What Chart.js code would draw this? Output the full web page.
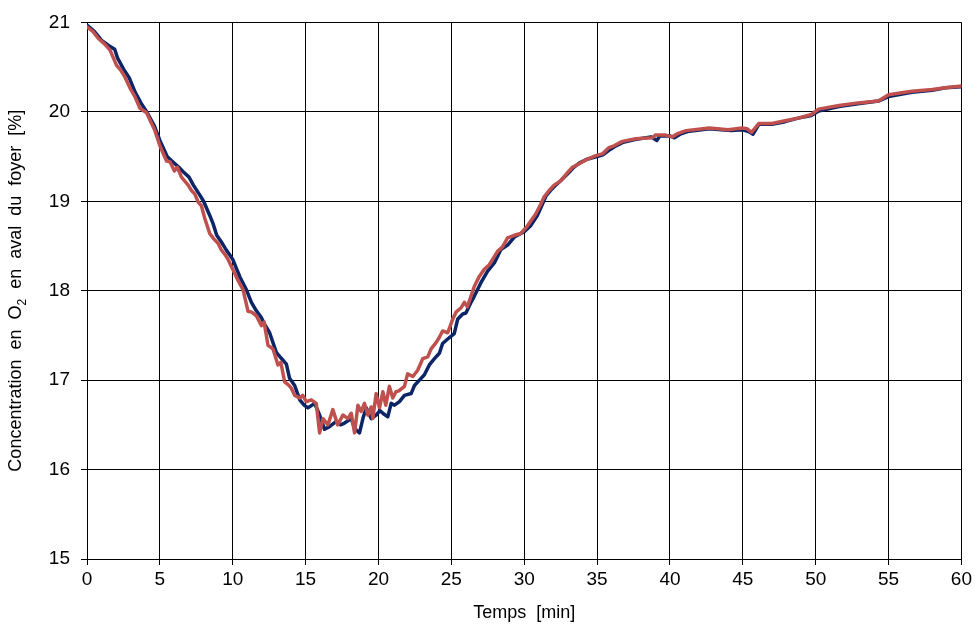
<!DOCTYPE html>
<html>
<head>
<meta charset="utf-8">
<script src="https://cdn.jsdelivr.net/npm/chart.js@4/dist/chart.umd.min.js"></script>
<style>
  html, body { margin: 0; padding: 0; background: #ffffff; }
  #wrap { width: 975px; height: 626px; }
</style>
</head>
<body>
<div id="wrap"><canvas id="c" width="975" height="626"></canvas></div>
<script>
// ---- Data ----
const xTickValues = [0, 5, 10, 15, 20, 25, 30, 35, 40, 45, 50, 55, 60];
const yTickValues = [15, 16, 17, 18, 19, 20, 21];
const xTitle = "Temps  [min]";
const yTitleParts = ["Concentration  en  O", "2", "  en  aval  du  foyer  [%]"];

const redTime = [0, 0.4, 0.78, 1.2, 1.58, 2.03, 2.3, 2.6, 3.0, 3.29, 3.63, 4.09, 4.4, 4.66, 5.0, 5.46, 5.7, 6.0, 6.2, 6.48, 6.94, 7.17, 7.4, 7.63, 7.85, 8.08, 8.42, 8.7, 8.99, 9.2, 9.45, 9.68, 10.0, 10.35, 10.71, 11.05, 11.3, 11.62, 11.96, 12.15, 12.42, 12.76, 13.1, 13.3, 13.56, 13.8, 14.02, 14.25, 14.6, 14.8, 15.05, 15.39, 15.73, 15.96, 16.19, 16.53, 16.87, 17.2, 17.56, 17.9, 18.13, 18.36, 18.59, 18.81, 19.04, 19.27, 19.5, 19.61, 19.84, 20.07, 20.3, 20.5, 20.75, 20.98, 21.2, 21.4, 21.78, 22.0, 22.36, 22.69, 23.04, 23.38, 23.61, 23.95, 24.18, 24.4, 24.75, 25.09, 25.32, 25.67, 25.89, 26.1, 26.35, 26.58, 26.92, 27.26, 27.6, 27.83, 28.17, 28.51, 28.86, 29.32, 29.77, 30.2, 30.8, 31.14, 31.37, 31.71, 32.05, 32.51, 32.97, 33.31, 33.77, 34.2, 34.91, 35.37, 35.82, 36.16, 36.74, 37.65, 38.79, 39.0, 39.7, 40.16, 40.57, 41.1, 42.7, 44.0, 44.95, 45.3, 45.6, 46.1, 47.0, 47.9, 48.8, 49.7, 50.2, 51.6, 52.9, 54.3, 55.0, 56.6, 58.0, 58.9, 60.0];
const redO2 = [20.95, 20.90, 20.82, 20.76, 20.69, 20.52, 20.47, 20.39, 20.25, 20.17, 20.04, 19.99, 19.88, 19.79, 19.62, 19.45, 19.44, 19.34, 19.38, 19.27, 19.18, 19.12, 19.08, 18.99, 18.95, 18.81, 18.64, 18.58, 18.53, 18.46, 18.41, 18.35, 18.24, 18.12, 18.01, 17.77, 17.76, 17.72, 17.61, 17.65, 17.39, 17.35, 17.17, 17.20, 16.98, 16.95, 16.91, 16.83, 16.80, 16.83, 16.76, 16.78, 16.74, 16.41, 16.57, 16.50, 16.67, 16.50, 16.61, 16.57, 16.63, 16.41, 16.72, 16.65, 16.74, 16.61, 16.70, 16.57, 16.85, 16.69, 16.87, 16.72, 16.93, 16.80, 16.87, 16.88, 16.93, 17.07, 17.04, 17.11, 17.24, 17.26, 17.35, 17.42, 17.48, 17.55, 17.53, 17.68, 17.76, 17.81, 17.87, 17.82, 17.94, 18.05, 18.16, 18.24, 18.29, 18.35, 18.44, 18.49, 18.59, 18.62, 18.64, 18.72, 18.86, 18.97, 19.05, 19.12, 19.18, 19.23, 19.32, 19.38, 19.42, 19.46, 19.51, 19.53, 19.60, 19.62, 19.67, 19.70, 19.71, 19.74, 19.74, 19.72, 19.76, 19.79, 19.82, 19.80, 19.82, 19.81, 19.77, 19.87, 19.87, 19.90, 19.93, 19.97, 20.03, 20.07, 20.10, 20.12, 20.19, 20.23, 20.25, 20.27, 20.29];

const blueTime = [0, 0.5, 1.0, 1.5, 1.9, 2.1, 2.5, 2.9, 3.3, 3.7, 4.1, 4.6, 5.0, 5.5, 5.9, 6.3, 6.6, 7.0, 7.3, 7.7, 8.0, 8.4, 8.65, 8.9, 9.2, 9.5, 9.8, 10.0, 10.5, 10.94, 11.28, 11.6, 11.96, 12.2, 12.53, 12.8, 12.99, 13.3, 13.68, 13.9, 14.25, 14.6, 14.9, 15.16, 15.62, 15.96, 16.3, 16.64, 17.1, 17.4, 17.67, 18.13, 18.36, 18.7, 18.93, 19.16, 19.5, 19.84, 20.1, 20.3, 20.64, 20.87, 21.1, 21.44, 21.78, 22.24, 22.47, 22.81, 23.15, 23.49, 23.84, 24.18, 24.4, 24.75, 25.2, 25.43, 25.78, 26.0, 26.35, 26.58, 27.03, 27.49, 27.95, 28.4, 28.86, 29.32, 30.0, 30.46, 30.9, 31.2, 31.5, 31.8, 32.1, 32.5, 33.0, 33.4, 33.8, 34.3, 35.0, 35.4, 35.9, 36.3, 36.8, 37.6, 38.7, 39.1, 39.3, 40.0, 40.3, 40.7, 41.2, 42.7, 43.5, 44.2, 45.0, 45.4, 45.7, 46.1, 47.0, 47.9, 48.8, 49.7, 50.2, 51.6, 52.9, 54.3, 55.0, 56.6, 58.0, 58.9, 60.0];
const blueO2 = [20.97, 20.90, 20.80, 20.74, 20.70, 20.60, 20.48, 20.38, 20.22, 20.10, 20.00, 19.85, 19.68, 19.50, 19.44, 19.38, 19.33, 19.27, 19.18, 19.08, 19.00, 18.85, 18.75, 18.62, 18.55, 18.47, 18.40, 18.35, 18.15, 18.01, 17.87, 17.78, 17.70, 17.62, 17.53, 17.40, 17.31, 17.25, 17.18, 17.02, 16.94, 16.78, 16.72, 16.69, 16.74, 16.61, 16.45, 16.48, 16.54, 16.50, 16.52, 16.57, 16.46, 16.41, 16.57, 16.69, 16.57, 16.61, 16.66, 16.63, 16.59, 16.74, 16.72, 16.76, 16.83, 16.85, 16.94, 17.00, 17.06, 17.17, 17.24, 17.30, 17.41, 17.46, 17.52, 17.68, 17.74, 17.75, 17.87, 17.94, 18.09, 18.22, 18.31, 18.46, 18.51, 18.60, 18.66, 18.73, 18.84, 18.95, 19.06, 19.12, 19.17, 19.23, 19.31, 19.38, 19.43, 19.47, 19.50, 19.52, 19.58, 19.62, 19.66, 19.69, 19.72, 19.68, 19.73, 19.73, 19.71, 19.75, 19.78, 19.81, 19.80, 19.79, 19.80, 19.78, 19.75, 19.86, 19.86, 19.89, 19.93, 19.96, 20.01, 20.06, 20.09, 20.12, 20.17, 20.22, 20.24, 20.27, 20.28];

// ---- Chart ----
const FONT = "'Liberation Sans', Arial, sans-serif";

const yTitlePlugin = {
  id: 'yTitleSub',
  afterDraw(chart) {
    const ctx = chart.ctx;
    const area = chart.chartArea;
    const cy = (area.top + area.bottom) / 2;
    const mainFont = "18px " + FONT;
    const subFont = "12px " + FONT;
    ctx.save();
    ctx.font = mainFont;
    const w0 = ctx.measureText(yTitleParts[0]).width;
    const w2 = ctx.measureText(yTitleParts[2]).width;
    ctx.font = subFont;
    const w1 = ctx.measureText(yTitleParts[1]).width;
    const total = w0 + w1 + w2;
    ctx.translate(21, cy);
    ctx.rotate(-Math.PI / 2);
    ctx.fillStyle = '#000';
    ctx.textBaseline = 'alphabetic';
    ctx.textAlign = 'left';
    let x = -total / 2;
    ctx.font = mainFont;
    ctx.fillText(yTitleParts[0], x, 0);
    x += w0;
    ctx.font = subFont;
    ctx.fillText(yTitleParts[1], x, 5);
    x += w1;
    ctx.font = mainFont;
    ctx.fillText(yTitleParts[2], x, 0);
    ctx.restore();
  }
};

const toPoints = (ts, vs) => ts.map((t, i) => ({ x: t, y: vs[i] }));

new Chart(document.getElementById('c'), {
  type: 'line',
  data: {
    datasets: [
      {
        label: 'Série 2',
        data: toPoints(redTime, redO2),
        borderColor: '#C0504D',
        borderWidth: 3.5,
        borderJoinStyle: 'round',
        borderCapStyle: 'round',
        pointRadius: 0,
        tension: 0,
        fill: false
      },
      {
        label: 'Série 1',
        data: toPoints(blueTime, blueO2),
        borderColor: '#0B2566',
        borderWidth: 3.5,
        borderJoinStyle: 'round',
        borderCapStyle: 'round',
        pointRadius: 0,
        tension: 0,
        fill: false
      }
    ]
  },
  options: {
    responsive: false,
    animation: false,
    devicePixelRatio: 1,
    layout: { padding: { left: 0, right: 12, top: 17, bottom: 0 } },
    plugins: { legend: { display: false }, tooltip: { enabled: false } },
    scales: {
      x: {
        type: 'linear',
        min: 0, max: 60,
        afterBuildTicks(scale) { scale.ticks = xTickValues.map(v => ({ value: v })); },
        afterFit(scale) { scale.height = 67; },
        grid: { color: '#000', lineWidth: 1, tickLength: 6, drawTicks: true },
        border: { color: '#000', width: 1 },
        ticks: { color: '#000', font: { family: FONT, size: 19 }, padding: 3, maxRotation: 0, autoSkip: false },
        title: { display: true, text: xTitle, color: '#000', font: { family: FONT, size: 18 }, padding: { top: 0, bottom: 2 } }
      },
      y: {
        type: 'linear',
        min: 15, max: 21,
        afterBuildTicks(scale) { scale.ticks = yTickValues.map(v => ({ value: v })); },
        afterFit(scale) { scale.width = 87; },
        grid: { color: '#000', lineWidth: 1, tickLength: 6, drawTicks: true },
        border: { color: '#000', width: 1 },
        ticks: { color: '#000', font: { family: FONT, size: 19 }, padding: 11, autoSkip: false }
      }
    }
  },
  plugins: [yTitlePlugin]
});
</script>
</body>
</html>
